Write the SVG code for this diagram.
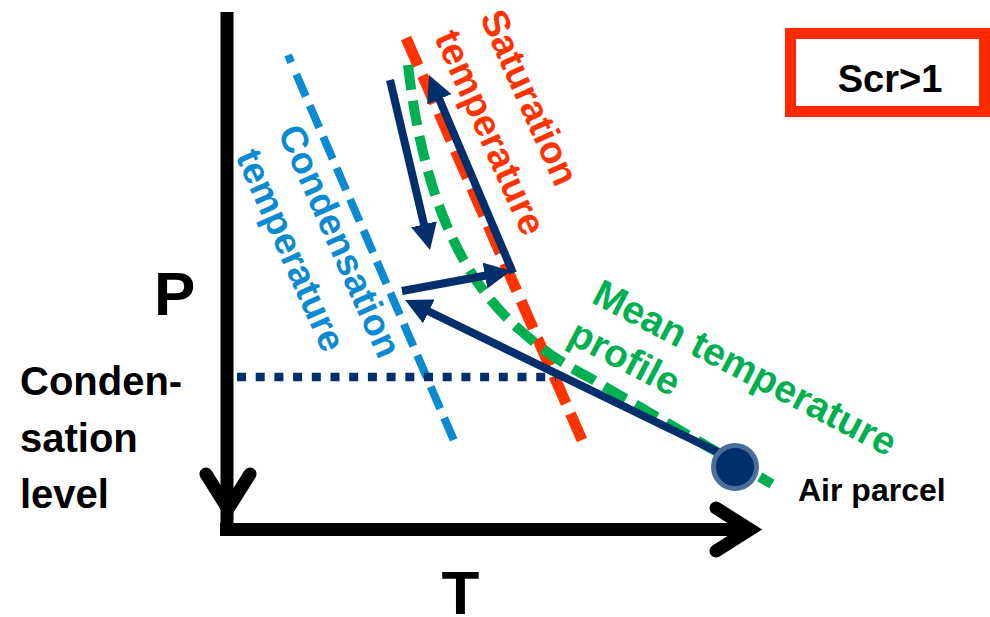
<svg xmlns="http://www.w3.org/2000/svg" width="990" height="617" viewBox="0 0 990 617">
<style>
.lbl{font-family:"Liberation Sans",Arial,sans-serif;font-weight:bold}
.blk{fill:#000}
.red{fill:#FF3300}
.blu{fill:#0A8AD0}
.grn{fill:#00B050}
.navy{stroke:#002F6C;stroke-width:8;fill:none}
</style>
<defs>
<marker id="ah" viewBox="0 0 10 10" refX="3" refY="5" markerWidth="3.3" markerHeight="3.3" orient="auto"><path d="M0,0 L10,5 L0,10 z" fill="#002F6C"/></marker>
</defs>
<rect width="990" height="617" fill="#fff"/>
<g id="axes" stroke="#000" stroke-width="13" fill="none">
<line x1="227" y1="12" x2="227" y2="523"/>
<line x1="220" y1="529.5" x2="752" y2="529.5"/>
<path d="M206,474 L228,509 L250,474" stroke-linecap="round" stroke-linejoin="miter"/>
<path d="M716,508 L750,529.5 L716,551" stroke-linecap="round" stroke-linejoin="miter"/>
</g>
<g id="curves" fill="none">
<line id="saturation-line" x1="406" y1="38" x2="582" y2="440" stroke="#FF3300" stroke-width="11" stroke-dasharray="30 11"/>
<line id="condensation-line" x1="288" y1="55" x2="455" y2="443" stroke="#0A8AD0" stroke-width="8" stroke-dasharray="8 13 24 10 24 10 24 10 24 10 24 10 24 10 24 10 24 10 24 10 24 10 24 10 24 10 24 10 24 10"/>
<path id="mean-profile" d="M408,65 C420,170 450,270 520,330 C545,352 560,362 590,378 L772,484" stroke="#00B050" stroke-width="10" stroke-dasharray="25 11"/>
<line id="condensation-level" x1="237" y1="377" x2="556" y2="377" stroke="#002F6C" stroke-width="8.5" stroke-dasharray="9 9.7"/>
</g>
<g id="connectors" class="navy">
<line x1="390" y1="80" x2="425.8" y2="232" marker-end="url(#ah)"/>
<line x1="513" y1="273" x2="436.2" y2="92" marker-end="url(#ah)"/>
<line x1="402" y1="291" x2="492.8" y2="274.2" marker-end="url(#ah)"/>
<line x1="728" y1="457" x2="421.7" y2="308" marker-end="url(#ah)"/>
</g>
<g id="parcel">
<circle cx="735" cy="467" r="21.5" fill="#002F6C" stroke="#4A6E9C" stroke-width="5"/>
<text class="lbl blk" x="798" y="501" font-size="32">Air parcel</text>
</g>
<g id="scr-box">
<rect x="790.5" y="33.5" width="194" height="78" fill="#fff" stroke="#FF2A00" stroke-width="11"/>
<text class="lbl blk" x="890" y="92" font-size="38" text-anchor="middle">Scr&gt;1</text>
</g>
<g id="axis-labels">
<text class="lbl blk" x="154" y="315" font-size="62">P</text>
<text class="lbl blk" x="441.5" y="614" font-size="62">T</text>
<text class="lbl blk" font-size="40"><tspan x="20" y="395">Conden-</tspan><tspan x="20" y="452">sation</tspan><tspan x="20" y="508">level</tspan></text>
</g>
<g id="saturation-label">
<text class="lbl red" font-size="38" transform="translate(479.4,16.9) rotate(66)">Saturation</text>
<text class="lbl red" font-size="38" transform="translate(434,37.3) rotate(66)">temperature</text>
</g>
<g id="condensation-label">
<text class="lbl blu" font-size="37.5" transform="translate(277.3,132.1) rotate(66)">Condensation</text>
<text class="lbl blu" font-size="37.5" transform="translate(235.2,156.3) rotate(66)">temperature</text>
</g>
<g id="mean-label">
<text class="lbl grn" font-size="39" transform="translate(590,302) rotate(27.5)">Mean temperature</text>
<text class="lbl grn" font-size="39" transform="translate(566,342) rotate(27.5)">profile</text>
</g>
</svg>
